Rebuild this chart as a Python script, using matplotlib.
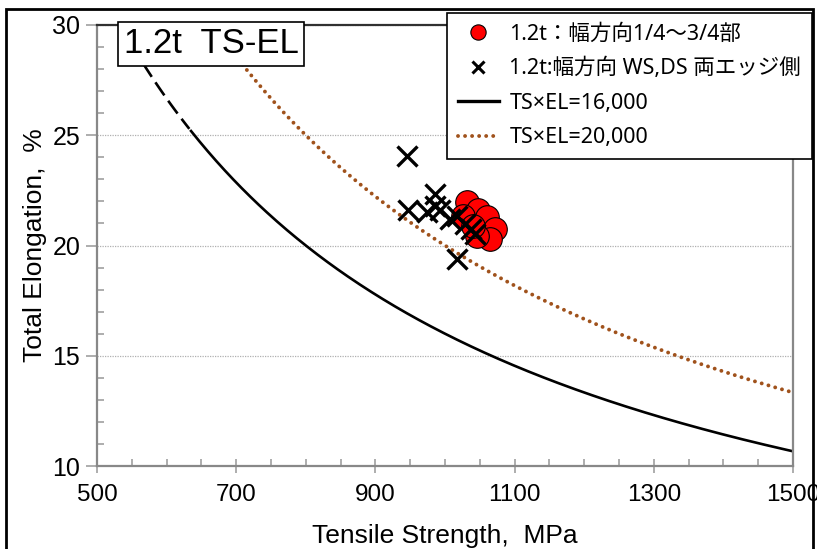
import numpy as np
import matplotlib
matplotlib.use('Agg')
from matplotlib import pyplot as plt
from matplotlib.patches import Rectangle
from matplotlib.lines import Line2D

# center of width (1/4 - 3/4)
ts_center = [1031, 1047, 1060, 1072, 1065, 1046, 1026, 1040]
el_center = [21.97, 21.6, 21.3, 20.75, 20.3, 20.45, 21.36, 20.9]

# WS / DS edges
ts_edge = [945, 947, 974, 986, 986, 993, 1007, 1017, 1029, 1038, 1043, 1017]
el_edge = [24.06, 21.59, 21.5, 22.35, 21.81, 21.59, 21.2, 21.36, 20.98, 20.75, 20.52, 19.4]

products = [16000, 20000]
labels = ['1.2t：幅方向1/4～3/4部', '1.2t:幅方向 WS,DS 両エッジ側',
          'TS×EL=16,000', 'TS×EL=20,000']
x_ticks = [500, 700, 900, 1100, 1300, 1500]
y_ticks = [10, 15, 20, 25, 30]

plt.rcParams['font.family'] = ['Liberation Sans Narrow', 'Liberation Sans', 'DejaVu Sans']
jp = ['Noto Sans', 'Noto Sans CJK JP']

fig = plt.figure(figsize=(8.17, 5.49), dpi=100)
ax = fig.add_axes([97/817, 1 - 466/549, 696/817, 441/549])

brown = '#A0521C'
dots = (0, (0.01, 1.8))

# iso TS*EL curves
ts1 = np.linspace(products[0] / 30, 1500, 400)
a = ts1 < 635
ax.plot(ts1[a], products[0] / ts1[a], color='black', lw=1.9, ls=(0, (6, 2.5)), zorder=2)
ax.plot(ts1[~a], products[0] / ts1[~a], color='black', lw=1.9, zorder=2)
ts2 = np.linspace(products[1] / 30, 1500, 400)
ax.plot(ts2, products[1] / ts2, color=brown, lw=2.8, ls=dots,
        dash_capstyle='round', zorder=2)

ax.plot(ts_center, el_center, 'o', ms=17, mfc='#FF0000', mec='black', mew=0.8, zorder=3)
ax.plot(ts_edge, el_edge, 'x', ms=14, mec='black', mew=2.4, zorder=4)

ax.set_xlim(500, 1500)
ax.set_ylim(10, 30)
ax.set_xticks(x_ticks)
ax.set_xticks(np.arange(500, 1501, 50), minor=True)
ax.set_yticks(y_ticks)
ax.set_yticks(np.arange(10, 31, 1), minor=True)
ax.tick_params(axis='x', which='major', direction='inout', length=10, width=1.2,
               color='#A0A0A0', labelsize=17.5, pad=8)
ax.tick_params(axis='y', which='major', direction='out', length=8, width=1.2,
               color='#A0A0A0', labelsize=18, pad=4)
ax.tick_params(which='minor', direction='in', length=5, width=1.2, color='#A0A0A0')
ax.grid(axis='y', which='major', ls=(0, (1, 1)), color='#B0B0B0', lw=0.9)
for s in ['left', 'bottom', 'right']:
    ax.spines[s].set_color('#888888')
    ax.spines[s].set_linewidth(1.6)
ax.spines['top'].set_color('#303030')
ax.spines['top'].set_linewidth(1.6)

ax.set_xlabel('Tensile Strength,  MPa', fontsize=19, labelpad=13)
ax.set_ylabel('Total Elongation,  %', fontsize=19, labelpad=4)

fig.text(211/817, 1 - 44/549, '1.2t  TS-EL', fontsize=25, ha='center', va='center',
         family=['Liberation Sans', 'DejaVu Sans'], zorder=10,
         bbox=dict(boxstyle='square,pad=0.15', fc='white', ec='black', lw=1.2))

handles = [
    Line2D([], [], ls='none', marker='o', ms=11, mfc='#FF0000', mec='black', mew=0.8),
    Line2D([], [], ls='none', marker='x', ms=9, mec='black', mew=2.2),
    Line2D([], [], color='black', lw=2.4),
    Line2D([], [], color=brown, lw=2.8, ls=dots, dash_capstyle='round'),
]
leg = fig.legend(handles, labels, loc='upper right', bbox_to_anchor=(812/817, 1 - 13/549),
                 prop={'family': jp, 'size': 15.5}, frameon=True, fancybox=False,
                 framealpha=1, edgecolor='black', handlelength=1.9, handletextpad=0.5,
                 labelspacing=0.62, borderpad=0.5, borderaxespad=0)
leg.get_frame().set_linewidth(1.2)
leg.set_zorder(10)

# outer chart border
fig.patches.append(Rectangle((6/817, -0.1), 807/817, 1.1 - 9/549, transform=fig.transFigure,
                             fill=False, ec='black', lw=2, zorder=20))

fig.savefig('out.png', dpi=100)
